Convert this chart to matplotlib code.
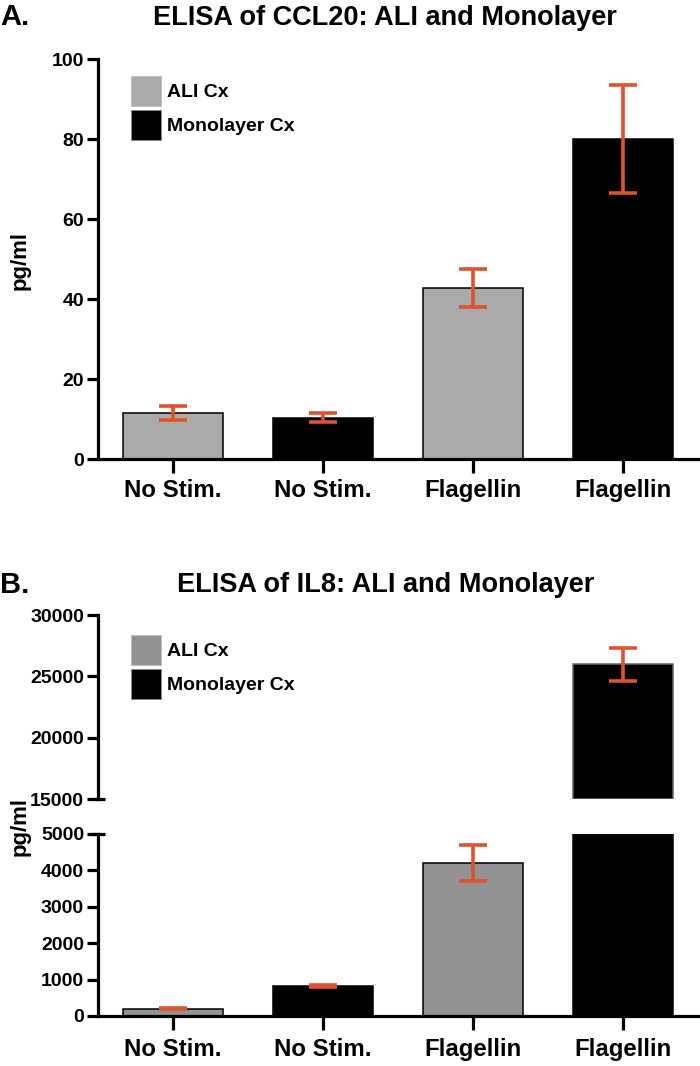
import matplotlib
matplotlib.use("Agg")
import matplotlib.pyplot as plt
import matplotlib.patches as mpatches
import numpy as np

plt.rcParams['font.family'] = ['Liberation Sans', 'DejaVu Sans']
plt.rcParams['font.weight'] = 'bold'

# ---------------- data ----------------
categories = ["No Stim.", "No Stim.", "Flagellin", "Flagellin"]
groups = ["ALI Cx", "Monolayer Cx", "ALI Cx", "Monolayer Cx"]

ccl20_mean = [11.5, 10.3, 42.7, 80.0]
ccl20_err = [1.75, 1.1, 4.75, 13.6]

il8_mean = [205, 820, 4210, 26000]
il8_err = [15, 30, 490, 1350]

ccl20_ticks = [0, 20, 40, 60, 80, 100]
il8_low_ticks = [0, 1000, 2000, 3000, 4000, 5000]
il8_high_ticks = [15000, 20000, 25000, 30000]
il8_break = (5000, 15000)

# ---------------- style ----------------
W, H = 700, 1066
fig = plt.figure(figsize=(W / 100, H / 100), dpi=100)

ERR_COLOR = "#e0522b"
SPINE_LW = 2.3
BAR_W = 0.667
XLIM = (-0.5, 3.513)
x = np.arange(len(categories))


def fx(px):
    return px / W


def fy(py):
    return 1 - py / H


def style_axis(ax, show_bottom=True):
    for s in ["top", "right"]:
        ax.spines[s].set_visible(False)
    ax.spines["left"].set_linewidth(SPINE_LW)
    ax.spines["bottom"].set_linewidth(SPINE_LW)
    ax.spines["bottom"].set_visible(show_bottom)
    ax.tick_params(axis="y", direction="out", length=8, width=SPINE_LW,
                   labelsize=14, pad=2)
    for lab in ax.get_yticklabels():
        lab.set_fontweight("bold")
    ax.set_xlim(*XLIM)


def draw_bars(ax, means, errs, ali_color, bottom=0):
    colors = [ali_color if g.startswith("ALI") else "black" for g in groups]
    heights = [m - bottom for m in means]
    ax.bar(x, heights, width=BAR_W, bottom=bottom, color=colors,
           edgecolor="black", linewidth=1.1, zorder=2)
    ax.errorbar(x, means, yerr=errs, fmt="none", ecolor=ERR_COLOR,
                elinewidth=2.6, capsize=10, capthick=2.6, zorder=3)


def add_legend(ax, ali_color, top_px):
    handles = [mpatches.Patch(facecolor=ali_color, edgecolor="#bbbbbb", linewidth=0.6),
               mpatches.Patch(facecolor="black", edgecolor="#888888", linewidth=0.6)]
    ax.legend(handles, ["ALI Cx", "Monolayer Cx"], loc="upper left",
              bbox_to_anchor=(fx(131), fy(top_px)),
              bbox_transform=fig.transFigure, frameon=False,
              prop={"size": 14, "weight": "bold"},
              handlelength=1.55, handleheight=2.0, labelspacing=0.2,
              handletextpad=0.3, borderpad=0, borderaxespad=0)


# ---------------- panel A ----------------
axA = fig.add_axes([fx(98), fy(459), 1 - fx(98), fy(59) - fy(459)])
draw_bars(axA, ccl20_mean, ccl20_err, "#aaaaaa")
axA.set_ylim(0, 100)
axA.set_yticks(ccl20_ticks)
axA.set_xticks(x)
axA.set_xticklabels(categories, fontsize=17.3, fontweight="bold")
axA.tick_params(axis="x", direction="out", length=10, width=SPINE_LW, pad=4.5)
style_axis(axA)
add_legend(axA, "#aaaaaa", 76)

fig.text(0.0, fy(17), "A.", fontsize=21, fontweight="bold", ha="left", va="center")
fig.text(fx(385), fy(18), "ELISA of CCL20: ALI and Monolayer", fontsize=19.5,
         fontweight="bold", ha="center", va="center")
fig.text(fx(20), fy(260), "pg/ml", rotation=90, fontsize=16, fontweight="bold",
         ha="center", va="center")

# ---------------- panel B (broken axis) ----------------
axBlo = fig.add_axes([fx(98), fy(1016), 1 - fx(98), fy(834) - fy(1016)])
axBhi = fig.add_axes([fx(98), fy(799), 1 - fx(98), fy(615) - fy(799)])

draw_bars(axBlo, il8_mean, il8_err, "#939393")
axBlo.set_ylim(0, il8_break[0])
axBlo.set_yticks(il8_low_ticks)
axBlo.set_xticks(x)
axBlo.set_xticklabels(categories, fontsize=17.3, fontweight="bold")
axBlo.tick_params(axis="x", direction="out", length=10, width=SPINE_LW, pad=5.5)
style_axis(axBlo)

hi_idx = [i for i, m in enumerate(il8_mean) if m > il8_break[1]]
axBhi.bar(x[hi_idx], [il8_mean[i] - il8_break[1] for i in hi_idx], width=BAR_W,
          bottom=il8_break[1], color="black", edgecolor="#666666", linewidth=1.1,
          zorder=2)
axBhi.errorbar(x[hi_idx], [il8_mean[i] for i in hi_idx],
               yerr=[il8_err[i] for i in hi_idx], fmt="none", ecolor=ERR_COLOR,
               elinewidth=2.6, capsize=10, capthick=2.6, zorder=3)
axBhi.set_ylim(il8_break[1], 30000)
axBhi.set_yticks(il8_high_ticks)
axBhi.set_xticks([])
style_axis(axBhi, show_bottom=False)
add_legend(axBhi, "#939393", 635)

# break marks
axBhi.plot([-0.012, 0.012], [0, 0], transform=axBhi.transAxes, color="black",
           lw=SPINE_LW, clip_on=False, solid_capstyle="butt")
axBlo.plot([-0.012, 0.012], [1, 1], transform=axBlo.transAxes, color="black",
           lw=SPINE_LW, clip_on=False, solid_capstyle="butt")

fig.text(0.0, fy(585), "B.", fontsize=21, fontweight="bold", ha="left", va="center")
fig.text(fx(386), fy(585), "ELISA of IL8: ALI and Monolayer", fontsize=19.5,
         fontweight="bold", ha="center", va="center")
fig.text(fx(20), fy(826), "pg/ml", rotation=90, fontsize=16, fontweight="bold",
         ha="center", va="center")

fig.savefig("out.png", dpi=100)
